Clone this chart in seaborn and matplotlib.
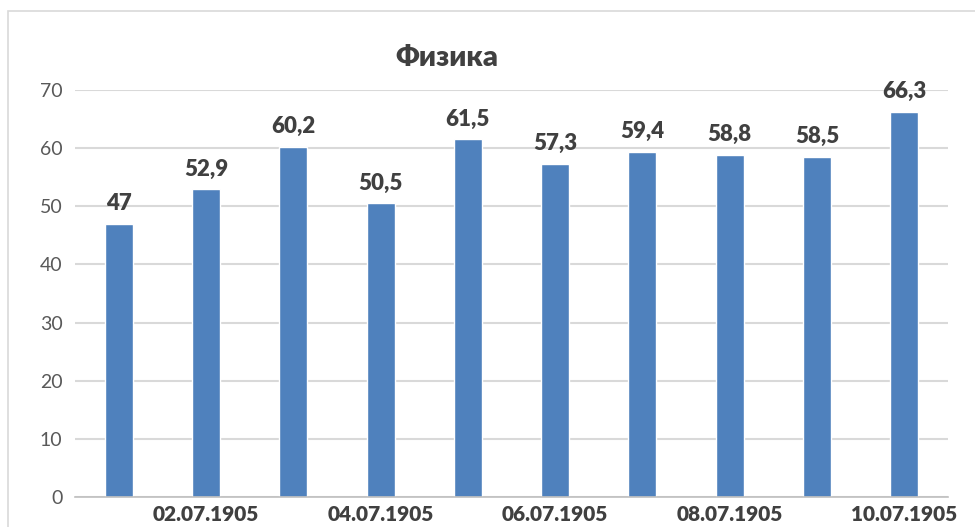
import pandas as pd
import seaborn as sns
import matplotlib.pyplot as plt
from matplotlib.patches import Rectangle

dates = ["01.07.1905", "02.07.1905", "03.07.1905", "04.07.1905", "05.07.1905",
         "06.07.1905", "07.07.1905", "08.07.1905", "09.07.1905", "10.07.1905"]
scores = [47, 52.9, 60.2, 50.5, 61.5, 57.3, 59.4, 58.8, 58.5, 66.3]

df = pd.DataFrame({"date": dates, "score": scores})

sns.set_style("white")
plt.rcParams["font.family"] = ["Lato", "DejaVu Sans"]

fig = plt.figure(figsize=(9.75, 5.27), dpi=100)
ax = fig.add_axes([75 / 975, 1 - 497 / 527, 873 / 975, 407 / 527])

sns.barplot(data=df, x="date", y="score", color="#4F81BD", saturation=1,
            width=0.32, ax=ax)

labels = [f"{v:g}".replace(".", ",") for v in scores]
ax.bar_label(ax.containers[0], labels=labels, padding=7, fontsize=16,
             fontweight="heavy", color="#404040")

ax.set_ylim(0, 70)
ax.set_yticks(range(0, 71, 10))
ax.yaxis.grid(True, color="#D9D9D9", linewidth=1.5)
ax.set_axisbelow(True)
for side in ["left", "right", "top"]:
    ax.spines[side].set_visible(False)
ax.spines["bottom"].set_color("#BFBFBF")
ax.spines["bottom"].set_linewidth(1.2)

ax.set_xticks(range(len(dates)))
ax.set_xticklabels([d if i % 2 == 1 else "" for i, d in enumerate(dates)],
                   fontsize=15, fontweight="heavy", color="#404040")
ax.tick_params(axis="y", labelsize=14, labelcolor="#595959", length=0, pad=9)
ax.tick_params(axis="x", length=0, pad=6)
ax.set_xlabel("")
ax.set_ylabel("")

fig.text(447 / 975, 1 - 58 / 527, "Физика", ha="center", va="center",
         fontsize=21, fontweight="heavy", color="#404040")

fig.patches.append(Rectangle((8 / 975, -0.1), 1.2, 1.1 - 11 / 527,
                             transform=fig.transFigure, fill=False,
                             edgecolor="#D9D9D9", linewidth=1.2))

fig.savefig("out.png", dpi=100)
